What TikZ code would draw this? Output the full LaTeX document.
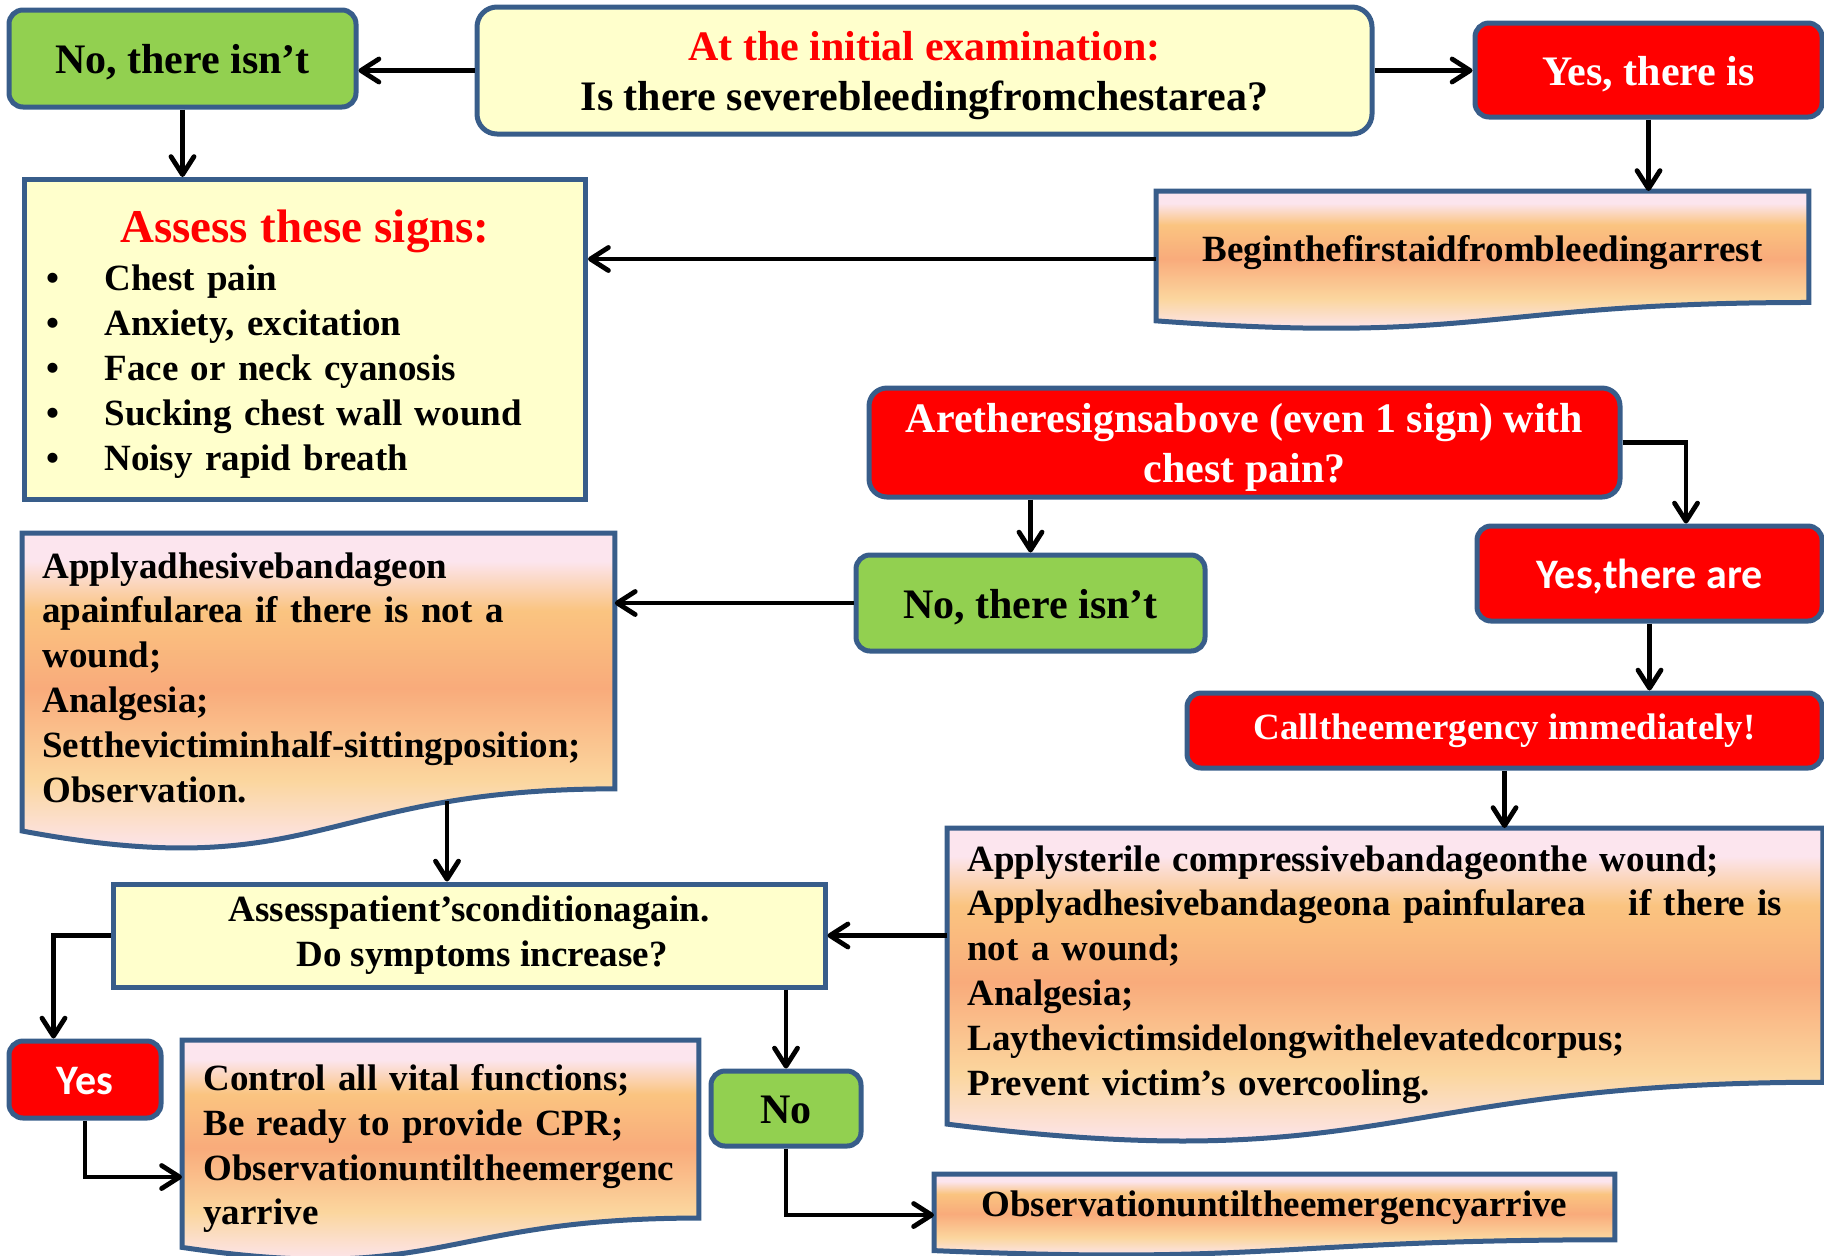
\documentclass[tikz,border=0pt]{standalone}
\usepackage{fontspec}
\setmainfont{Liberation Serif}
\newfontfamily\calibri{Carlito}
\usepackage{xcolor}
\usetikzlibrary{positioning}
\usetikzlibrary{calc}
\usetikzlibrary{arrows.meta}
\pgfdeclarelayer{background}
\pgfsetlayers{background,main}
\hyphenpenalty=10000
\exhyphenpenalty=10000
\definecolor{edgecolor}{RGB}{56, 93, 138}
\definecolor{askcolor}{RGB}{255, 255, 204}
\definecolor{nocolor}{RGB}{146, 208, 80}
\definecolor{yescolor}{RGB}{255, 0, 0}
\definecolor{peachpink}{RGB}{252, 229, 238}
\definecolor{peachlight}{RGB}{250, 196, 128}
\definecolor{peachmid}{RGB}{249, 171, 123}
\definecolor{peachlow}{RGB}{251, 214, 158}
\pgfdeclareverticalshading{peach}{100bp}{color(0bp)=(peachpink); color(30bp)=(peachpink); color(40bp)=(peachlow); color(53bp)=(peachmid); color(64bp)=(peachlight); color(71bp)=(peachpink); color(100bp)=(peachpink)}
\newcommand\flowhead{\fontsize{21}{25}\selectfont\bfseries}
\newcommand\flowbody{\fontsize{18.5}{22.4}\selectfont\bfseries}
\newcommand\flowtitle{\fontsize{23.5}{28}\selectfont\bfseries}
\tikzstyle{flow} = [-{Straight Barb[length=9pt, width=11.5pt, round]}, line width=2.4pt, black]
\tikzstyle{askbox} = [draw=edgecolor, line width=2.5pt, fill=askcolor, align=center, font=\flowhead]
\tikzstyle{nobox} = [draw=edgecolor, line width=2.5pt, fill=nocolor, rounded corners=7pt, align=center, font=\flowhead]
\tikzstyle{yesbox} = [draw=edgecolor, line width=2.5pt, fill=yescolor, text=white, rounded corners=7pt, align=center, font=\flowhead]
\tikzstyle{oneline} = [text height=16pt, text depth=0.8pt]
\tikzstyle{twoline} = [text height=41pt, text depth=1pt]
\tikzstyle{doctext} = [anchor=north west, inner xsep=10pt, align=left, font=\flowbody]
\tikzstyle{docfill} = [draw=edgecolor, line width=2.5pt, shade, shading=peach]
% wavy "document" outline under a doc node, #2 = full height
\newcommand\docshape[2]{%
	\path [docfill] (#1.north west) -- (#1.north east) -- ([yshift=-0.802*#2]#1.north east)
	.. controls ([yshift=-0.802*#2]#1.north) and ([yshift=-1.1075*#2]#1.north)
	.. ([yshift=-0.934*#2]#1.north west) -- cycle;}

\begin{document}
\begin{tikzpicture}[x=0.5pt, y=-0.5pt]
	\useasboundingbox (0,0) rectangle (1824,1255);
	
	%
	% Initial examination
	\node [askbox, twoline, rounded corners=10pt, minimum width=447.5pt, minimum height=63.5pt] (q_bleed) at (924.5,70.5) {\textcolor{yescolor}{At the initial examination:}\\Is there severebleedingfromchestarea?};
	\node [nobox, oneline, minimum width=173.5pt, minimum height=48.5pt] (no_top) at (182.5,58.5) {No, there isn’t};
	\node [yesbox, oneline, minimum width=173.5pt, minimum height=47pt] (yes_top) at (1648.5,70) {Yes, there is};
	
	\node [doctext, align=center, text width=306pt, minimum height=55.75pt, text height=14pt, text depth=0pt] (begin_aid) at (1156,191) {Beginthefirstaidfrombleedingarrest};
	
	\node [askbox, anchor=north west, align=left, font=\flowbody, text width=258.5pt, inner xsep=11pt, minimum height=160pt] (signs) at (22,177) {%
		{\centering\flowtitle\color{yescolor}\rule{0pt}{20.6pt}Assess these signs:\par}\vspace{2pt}
		\makebox[29pt][l]{\textbullet}Chest pain\\
		\makebox[29pt][l]{\textbullet}Anxiety, excitation\\
		\makebox[29pt][l]{\textbullet}Face or neck cyanosis\\
		\makebox[29pt][l]{\textbullet}Sucking chest wall wound\\
		\makebox[29pt][l]{\textbullet}Noisy rapid breath};
	
	\draw [flow] (q_bleed.west) -- (q_bleed.west -| no_top.east);
	\draw [flow] (q_bleed.east) -- (q_bleed.east -| yes_top.west);
	\draw [flow] (no_top.south) -- (no_top.south |- signs.north);
	\draw [flow] (yes_top.south) -- (yes_top.south |- begin_aid.north);
	\draw [flow] ([yshift=-34pt]begin_aid.north west) -- ([yshift=-34pt]begin_aid.north west -| signs.east);
	
	%
	% Signs with chest pain
	\node [yesbox, twoline, rounded corners=9pt, minimum width=375.5pt, minimum height=54.5pt] (q_signs) at (1244.5,442.5) {Aretheresignsabove (even 1 sign) with\\chest pain?};
	\node [nobox, oneline, minimum width=174.5pt, minimum height=48pt] (no_mid) at (1030.5,603) {No, there isn’t};
	\node [yesbox, oneline, minimum width=172.5pt, minimum height=47.5pt] (yes_mid) at (1649.5,573.5) {\calibri Yes,there are};
	\node [yesbox, font=\flowbody, minimum width=317.5pt, minimum height=37.5pt] (call_em) at (1504.5,730.5) {Calltheemergency immediately!};
	
	\node [doctext, text width=276pt, inner ysep=9.5pt] (adh_band) at (22,533) {Applyadhesivebandageon\\
		apainfularea if there is not a\\
		wound;\\
		Analgesia;\\
		Setthevictiminhalf-sittingposition;\\
		Observation.};
	\node [doctext, text width=417.5pt, inner ysep=8.5pt] (sterile) at (947,828) {Applysterile compressivebandageonthe wound;\\
		Applyadhesivebandageona painfularea\hfill if there is\kern10pt\mbox{}\\
		not a wound;\\
		Analgesia;\\
		Laythevictimsidelongwithelevatedcorpus;\\
		Prevent victim’s overcooling.};
	
	\draw [flow] (q_signs.east) -| ([xshift=18.25pt]yes_mid.north);
	\draw [flow] (no_mid.north |- q_signs.south) -- (no_mid.north);
	\draw [flow] (no_mid.west) -- (no_mid.west -| adh_band.east);
	\draw [flow] (yes_mid.south) -- (yes_mid.south |- call_em.north);
	\draw [flow] (call_em.south) -- (call_em.south |- sterile.north);
	
	%
	% Second assessment
	\node [askbox, font=\flowbody, minimum width=356pt, minimum height=51.5pt] (assess_pat) at (469,935.5) {Assesspatient’sconditionagain.\\\hspace*{13pt}Do symptoms increase?};
	\node [yesbox, oneline, minimum width=76pt, minimum height=38.5pt] (yes_bot) at (85,1079.5) {\calibri Yes};
	\node [nobox, oneline, minimum width=75pt, minimum height=37.5pt] (no_bot) at (786,1108.5) {No};
	
	\node [doctext, text width=237pt, inner xsep=10.5pt, inner ysep=12pt] (ctrl_fun) at (182,1040) {Control all vital functions;\\
		Be ready to provide CPR;\\
		Observationuntiltheemergenc\\
		yarrive};
	\node [doctext, align=center, text width=320pt, minimum height=33pt] (observe) at (934,1174) {Observationuntiltheemergencyarrive};
	
	\coordinate (adh_out) at (447,801);
	\draw [flow] (adh_out) -- (adh_out |- assess_pat.north);
	\draw [flow] (assess_pat.east -| sterile.west) -- (assess_pat.east);
	\draw [flow] (assess_pat.west) -| ([xshift=-15.75pt]yes_bot.north);
	\draw [flow] (yes_bot.south) |- ([yshift=-68.5pt]ctrl_fun.north west);
	\draw [flow] (assess_pat.south -| no_bot.north) -- (no_bot.north);
	\draw [flow] (no_bot.south) |- ([yshift=-20.5pt]observe.north west);
	
	%
	% Document outlines
	\begin{pgfonlayer}{background}
		\docshape{begin_aid}{69.5pt}
		\docshape{adh_band}{159.5pt}
		\docshape{sterile}{158.5pt}
		\docshape{ctrl_fun}{111pt}
		\docshape{observe}{41pt}
	\end{pgfonlayer}
	
\end{tikzpicture}
\end{document}
